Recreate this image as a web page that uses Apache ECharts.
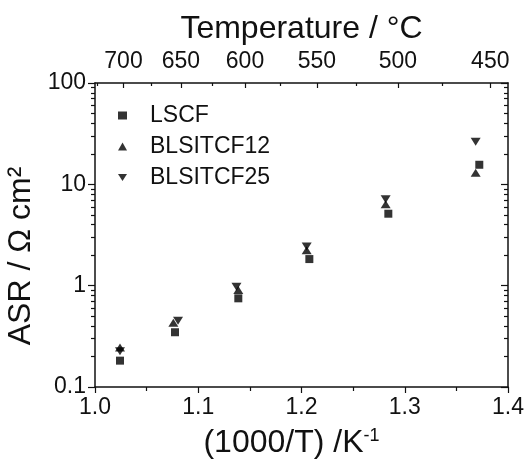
<!DOCTYPE html>
<html>
<head>
<meta charset="utf-8">
<script src="https://cdn.jsdelivr.net/npm/echarts@6/dist/echarts.min.js"></script>
<style>
html,body{margin:0;padding:0;background:#fff;}
#chart{width:526px;height:462px;}
</style>
</head>
<body>
<div id="chart"></div>
<script>
// ---- data ----
var seriesNames = ['LSCF', 'BLSITCF12', 'BLSITCF25'];
var xLSCF = [1.0242, 1.0775, 1.1388, 1.2076, 1.2841, 1.3722];
var yLSCF = [0.182, 0.347, 0.75, 1.83, 5.13, 15.6];
var x12 = [1.0242, 1.0759, 1.1388, 1.2050, 1.2815, 1.3687];
var y12 = [0.246, 0.43, 0.906, 2.23, 6.35, 13.0];
var x25 = [1.0242, 1.0804, 1.1370, 1.2050, 1.2815, 1.3687];
var y25 = [0.225, 0.45, 0.977, 2.43, 7.11, 26.3];
var bottomTicks = [1.0, 1.1, 1.2, 1.3, 1.4];
var topTempsMajor = [700, 650, 600, 550, 500, 450];
var topTempsMinor = [725, 675, 625, 575, 525, 475];
var yMajor = [0.1, 1, 10, 100];
var yMinorFactors = [2, 3, 4, 5, 6, 7, 8, 9];

function zip(a, b) { return a.map(function (v, i) { return [v, b[i]]; }); }
function tToX(t) { return 1000 / (t + 273.15); }
var yMinor = [];
[0.1, 1, 10].forEach(function (d) { yMinorFactors.forEach(function (f) { yMinor.push(+(d * f).toPrecision(3)); }); });

var FONT = 'Liberation Sans, Arial, Helvetica, sans-serif';
var axisLine = { show: true, lineStyle: { color: '#111', width: 1.5 } };
var xMin = bottomTicks[0], xMax = bottomTicks[bottomTicks.length - 1];
var yMin = yMajor[0], yMax = yMajor[yMajor.length - 1];

var chart = echarts.init(document.getElementById('chart'), null, { renderer: 'canvas' });
chart.setOption({
  backgroundColor: '#fff',
  animation: false,
  textStyle: { fontFamily: FONT },
  grid: { left: 95, right: 18, top: 83, bottom: 75, containLabel: false, outerBoundsMode: 'none' },
  legend: {
    orient: 'vertical', left: 113, top: 99, padding: 5,
    itemWidth: 9, itemHeight: 8, itemGap: 8,
    data: seriesNames,
    textStyle: { fontSize: 23, color: '#111', fontFamily: FONT, padding: [0, 0, 0, 18] }
  },
  xAxis: [
    {
      type: 'value', position: 'bottom', min: xMin, max: xMax, interval: 0.1,
      axisLine: axisLine,
      axisTick: { show: true, inside: false, length: 6, lineStyle: { color: '#111', width: 1.2 } },
      minorTick: { show: true, splitNumber: 2, length: 4, lineStyle: { color: '#111', width: 1.2 } },
      splitLine: { show: false },
      axisLabel: { fontSize: 23, color: '#111', margin: 9, fontFamily: FONT,
        formatter: function (v) { return v.toFixed(1); } },
      name: '(1000/T) /K{sup|-1}', nameLocation: 'middle', nameGap: 40,
      nameTextStyle: { fontSize: 32, color: '#111', fontFamily: FONT, padding: [0, 20, 0, 0],
        rich: { sup: { fontSize: 18, color: '#111', fontFamily: FONT, verticalAlign: 'top', padding: [0, 0, 14, 0] } } }
    },
    {
      type: 'value', position: 'top', min: xMin, max: xMax,
      axisLine: axisLine,
      axisTick: { show: true, inside: true, length: 5, customValues: topTempsMajor.map(tToX), lineStyle: { color: '#111', width: 1.2 } },
      splitLine: { show: false },
      axisLabel: { show: true, fontSize: 23, color: '#111', margin: 10, fontFamily: FONT,
        customValues: topTempsMajor.map(tToX),
        formatter: function (v) { return String(Math.round(1000 / v - 273.15)); } },
      name: 'Temperature / °C', nameLocation: 'middle', nameGap: 38,
      nameTextStyle: { fontSize: 32, color: '#111', fontFamily: FONT }
    },
    {
      type: 'value', position: 'top', min: xMin, max: xMax,
      axisLine: { show: false },
      axisTick: { show: true, inside: true, length: 3, customValues: topTempsMinor.map(tToX), lineStyle: { color: '#111', width: 1.2 } },
      axisLabel: { show: false },
      splitLine: { show: false }
    }
  ],
  yAxis: [
    {
      type: 'log', logBase: 10, min: yMin, max: yMax, position: 'left',
      axisLine: axisLine,
      axisTick: { show: true, inside: false, length: 7, customValues: yMajor, lineStyle: { color: '#111', width: 1.2 } },
      splitLine: { show: false },
      axisLabel: { fontSize: 23, color: '#111', margin: 9, fontFamily: FONT, customValues: yMajor,
        formatter: function (v) { return String(+v.toPrecision(3)); } },
      name: 'ASR / Ω cm²', nameLocation: 'middle', nameGap: 52, nameRotate: 90,
      nameTextStyle: { fontSize: 32, color: '#111', fontFamily: FONT, padding: [0, 42, 0, 0] }
    },
    {
      type: 'log', logBase: 10, min: yMin, max: yMax, position: 'left',
      axisLine: { show: false },
      axisTick: { show: true, inside: false, length: 4, customValues: yMinor, lineStyle: { color: '#111', width: 1.2 } },
      axisLabel: { show: false }, splitLine: { show: false }
    },
    {
      type: 'log', logBase: 10, min: yMin, max: yMax, position: 'right',
      axisLine: axisLine,
      axisTick: { show: true, inside: true, length: 7, customValues: yMajor, lineStyle: { color: '#111', width: 1.2 } },
      axisLabel: { show: false }, splitLine: { show: false }
    },
    {
      type: 'log', logBase: 10, min: yMin, max: yMax, position: 'right',
      axisLine: { show: false },
      axisTick: { show: true, inside: true, length: 4, customValues: yMinor, lineStyle: { color: '#111', width: 1.2 } },
      axisLabel: { show: false }, splitLine: { show: false }
    }
  ],
  series: [
    { name: seriesNames[0], type: 'scatter', xAxisIndex: 0, yAxisIndex: 0,
      symbol: 'rect', symbolSize: 8, itemStyle: { color: '#000' }, data: zip(xLSCF, yLSCF) },
    { name: seriesNames[1], type: 'scatter', xAxisIndex: 0, yAxisIndex: 0,
      symbol: 'triangle', symbolSize: [10, 8], itemStyle: { color: '#000' }, data: zip(x12, y12) },
    { name: seriesNames[2], type: 'scatter', xAxisIndex: 0, yAxisIndex: 0,
      symbol: 'path://M0,0 L10,0 L5,8 Z', symbolSize: [10, 8], itemStyle: { color: '#000' }, data: zip(x25, y25) }
  ]
});
</script>
</body>
</html>
